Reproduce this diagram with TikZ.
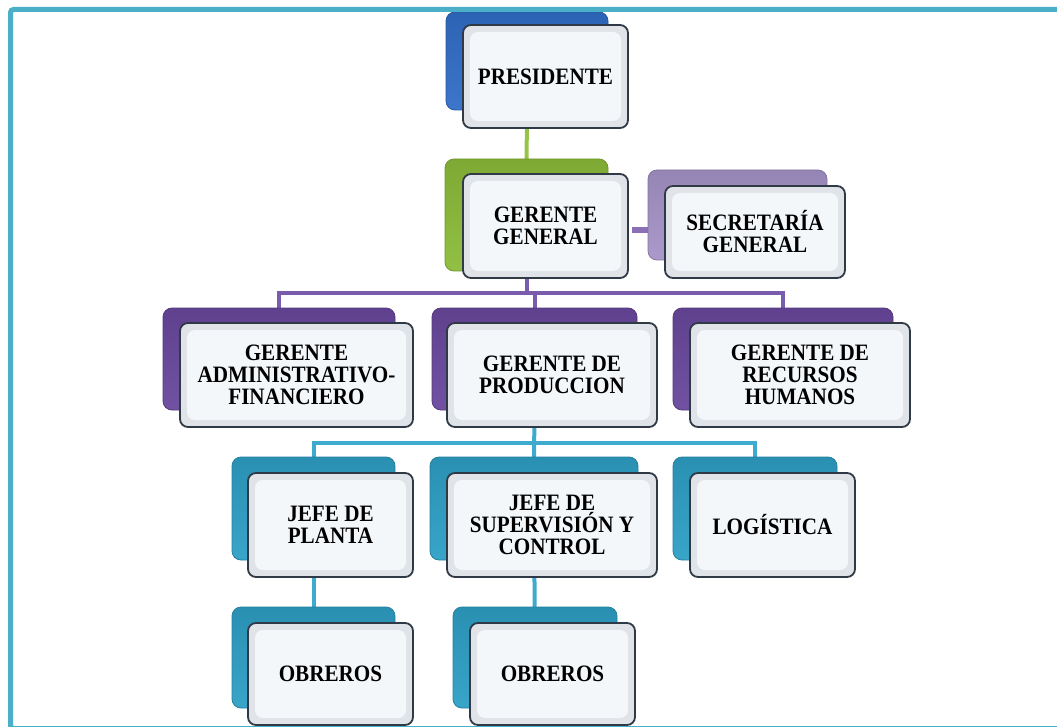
\documentclass[tikz,border=0pt]{standalone}
\usepackage{fontspec}
\setmainfont{Liberation Serif}[FakeStretch=0.9]
\usetikzlibrary{backgrounds}
\definecolor{blueC}{RGB}{50,110,200}
\definecolor{greenC}{RGB}{140,188,58}
\definecolor{lavC}{RGB}{166,148,200}
\definecolor{purpC}{RGB}{106,72,158}
\definecolor{cyanC}{RGB}{46,160,198}
\definecolor{frameC}{RGB}{75,175,200}
\definecolor{edgeC}{RGB}{48,58,70}
\definecolor{outerF}{RGB}{224,228,233}
\definecolor{innerF}{RGB}{244,247,250}
\definecolor{glineC}{RGB}{150,196,72}
\definecolor{plineC}{RGB}{122,92,172}
\definecolor{llineC}{RGB}{140,112,182}
\definecolor{clineC}{RGB}{62,170,206}
\begin{document}
\begin{tikzpicture}[x=1pt,y=-1pt,
  backbox/.style={rounded corners=9pt, inner sep=0pt, draw=#1!80!black, line width=0.8pt,
    top color=#1!90!black, bottom color=#1!95!white},
  frontbox/.style={rounded corners=8pt, inner sep=0pt, draw=edgeC, line width=1.8pt,
    fill=outerF, align=center, font=\bfseries\fontsize{23.5}{22}\selectfont,
    path picture={\fill[innerF] ([shift={(7pt,-7pt)}]path picture bounding box.north west)
      rectangle ([shift={(-7pt,7pt)}]path picture bounding box.south east);}},
  link/.style={line width=4pt, #1},
]
\useasboundingbox (0,0) rectangle (1057,727);
% level 1
\node[backbox=blueC, minimum width=162pt, minimum height=98pt] (pB) at (527,61) {};
\node[frontbox, minimum width=165pt, minimum height=103pt] (p) at (545.5,76.5) {PRESIDENTE};
% level 2
\node[backbox=greenC, minimum width=163pt, minimum height=112pt] (gB) at (526.5,215) {};
\node[frontbox, minimum width=165pt, minimum height=104pt] (g) at (545.5,226) {GERENTE\\GENERAL};
\node[backbox=lavC, minimum width=179pt, minimum height=90pt] (sB) at (737.5,215) {};
\node[frontbox, minimum width=180pt, minimum height=92pt] (s) at (755,232) {SECRETARÍA\\GENERAL};
% level 3
\node[backbox=purpC, minimum width=232pt, minimum height=102pt] (aB) at (279,359) {};
\node[frontbox, minimum width=233pt, minimum height=104pt] (a) at (296.5,375) {GERENTE\\ADMINISTRATIVO-\\FINANCIERO};
\node[backbox=purpC, minimum width=205pt, minimum height=102pt] (mB) at (534.5,359) {};
\node[frontbox, minimum width=210pt, minimum height=104pt] (m) at (552,375) {GERENTE DE\\PRODUCCION};
\node[backbox=purpC, minimum width=220pt, minimum height=102pt] (rB) at (783,359) {};
\node[frontbox, minimum width=220pt, minimum height=104pt] (r) at (800,375) {GERENTE DE\\RECURSOS\\HUMANOS};
% level 4
\node[backbox=cyanC, minimum width=163pt, minimum height=103pt] (plB) at (313.5,508.5) {};
\node[frontbox, minimum width=165pt, minimum height=104pt] (pl) at (330.5,525) {JEFE DE\\PLANTA};
\node[backbox=cyanC, minimum width=208pt, minimum height=103pt] (svB) at (534,508.5) {};
\node[frontbox, minimum width=210pt, minimum height=104pt] (sv) at (552,525) {JEFE DE\\SUPERVISIÓN Y\\CONTROL};
\node[backbox=cyanC, minimum width=164pt, minimum height=103pt] (lgB) at (755,508.5) {};
\node[frontbox, minimum width=165pt, minimum height=104pt] (lg) at (772.5,525) {LOGÍSTICA};
% level 5
\node[backbox=cyanC, minimum width=163pt, minimum height=101pt] (o1B) at (313.5,657.5) {};
\node[frontbox, minimum width=165pt, minimum height=102pt] (o1) at (330.5,674) {OBREROS};
\node[backbox=cyanC, minimum width=164pt, minimum height=101pt] (o2B) at (535,657.5) {};
\node[frontbox, minimum width=165pt, minimum height=102pt] (o2) at (552.5,674) {OBREROS};
% connectors
\coordinate (bus1) at (0,293);
\coordinate (bus2) at (0,443);
\begin{scope}[on background layer]
  \draw[link=glineC] (pB.center) -- (gB.center);
  \draw[link=llineC, line width=6pt, shorten <=3pt] ([yshift=-4pt]g.east) -- ([yshift=-4pt]g.east -| sB.west);
  \draw[link=plineC] (aB.center) |- (bus1 -| rB.center) -- (rB.center);
  \draw[link=plineC] (gB.center) -- (gB.center |- bus1);
  \draw[link=plineC] (mB.center) -- (mB.center |- bus1);
  \draw[link=clineC] (plB.center) |- (bus2 -| lgB.center) -- (lgB.center);
  \draw[link=clineC] (mB.center) -- (svB.center);
  \draw[link=clineC] (plB.center) -- (o1B.center);
  \draw[link=clineC] (svB.center) -- (o2B.center);
\end{scope}
% frame
\draw[frameC, line width=5pt, rounded corners=3pt] (10.5,9.5) rectangle (1068,728.5);
\end{tikzpicture}
\end{document}
